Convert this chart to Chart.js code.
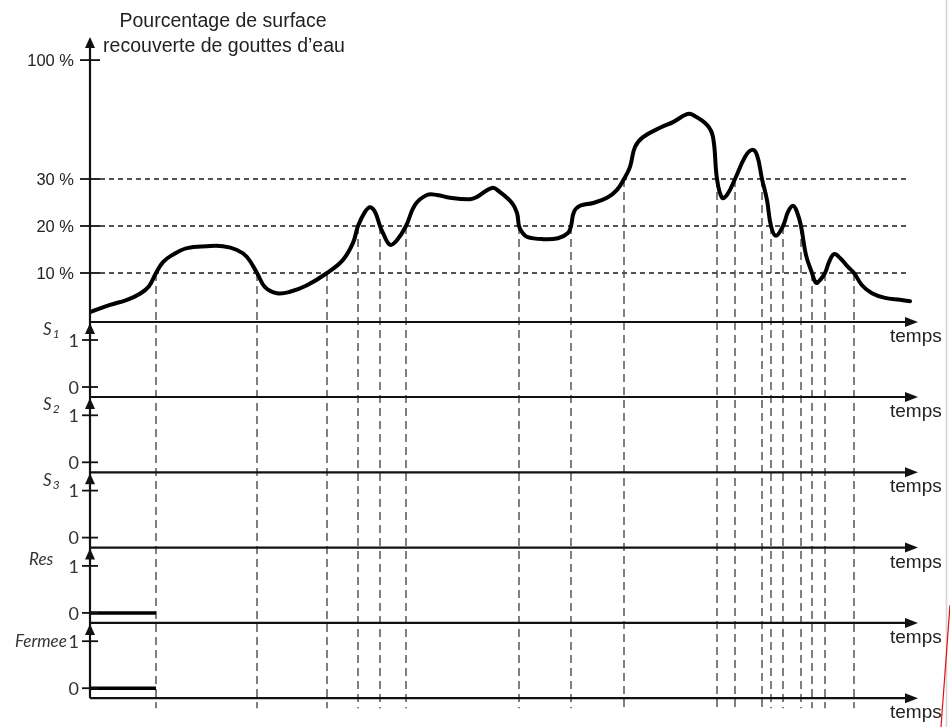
<!DOCTYPE html>
<html lang="fr">
<head>
<meta charset="utf-8">
<title>Chronogramme - gouttes d'eau</title>
<script src="https://cdn.jsdelivr.net/npm/chart.js@4.4.1/dist/chart.umd.min.js"></script>
<style>
  html, body { margin: 0; padding: 0; background: #fff; }
  #cadre { position: relative; width: 950px; height: 727px; }
</style>
</head>
<body>
<div id="cadre"><canvas id="chronogramme" width="950" height="727"></canvas></div>
<script>
// Courbe du haut : temps (unité arbitraire, 0 = origine, 828 = bout de la flèche)
const tempsCourbe = [0, 20, 37, 50, 59, 66, 73, 82, 97, 117, 133, 147, 157, 167, 175, 187, 200, 217, 237,
    253, 263, 268, 275, 280, 285, 290, 293, 300, 307, 316, 325, 337, 347, 360, 380, 387, 402, 410, 422,
    427, 429, 432, 437, 453, 468, 478, 481, 484, 490, 503, 517, 527, 534, 540, 545, 553, 570, 583, 597,
    603, 617, 623, 627, 632, 637, 645, 655, 662, 667, 672, 677, 681, 686, 693, 698, 703, 707, 711, 716,
    722, 726, 730, 735, 739, 744, 750, 758, 764, 772, 782, 795, 810, 820];
const pourcentage = [1.7, 3.2, 4.3, 5.6, 7.2, 10.0, 12.3, 13.8, 15.3, 15.7, 15.7, 14.9, 13.4, 10.0, 7.0, 5.7, 6.0, 7.4, 10.0,
    12.8, 16.4, 20.0, 23.0, 24.0, 23.0, 20.0, 18.5, 16.0, 17.0, 20.0, 24.5, 26.6, 26.6, 26.0, 25.7, 26.2, 28.1, 27.2, 24.9,
    22.8, 20.0, 18.7, 17.7, 17.2, 17.4, 18.5, 20.0, 23.0, 24.3, 24.9, 26.0, 27.7, 30.0, 32.6, 36.8, 38.9, 40.9, 42.1, 43.8,
    43.6, 41.5, 38.9, 30.0, 26.0, 26.6, 30.0, 34.7, 36.2, 35.1, 30.0, 25.5, 20.0, 17.9, 20.0, 23.0, 24.3, 23.0, 20.0, 13.8,
    10.0, 7.9, 8.5, 10.0, 12.3, 14.0, 13.2, 11.3, 10.0, 7.4, 5.7, 4.7, 4.3, 4.0];

// Instants où la courbe franchit un seuil (pointillés verticaux) et seuil franchi
const seuilsTemps = [66, 167, 237, 268, 290, 316, 429, 481, 534, 627, 645, 672, 681, 693, 711, 722, 735, 764];
const seuilsNiveau = [10, 10, 10, 20, 20, 20, 20, 20, 30, 30, 30, 30, 20, 20, 20, 10, 10, 10];

// Graduations de l'axe des pourcentages
const niveauxGrille = [10, 20, 30];
const valeursPct = [10, 20, 30, 55.3];
const etiquettesPct = ["10 %", "20 %", "30 %", "100 %"];

// Signaux logiques
const signaux = ["S1", "S2", "S3", "Res", "Fermee"];
const valeursLogiques = [0, 1];
const tempsRes = [0, 66];
const valRes = [0, 0];
const tempsFermee = [0, 66];
const valFermee = [0, 0];

// Mise en page (pixels)
const HAUT = 40, BAS = 698, GAUCHE = 90, DROITE = 918;
const T_MAX = 828, T_FIN_GRILLE = 818;
const PX_PCT = 4.7, ZERO_PCT = 320;          // 10 % = 47 px
const PX_LOG = 47, ZERO_S1 = 387, PAS_PANNEAU = 75.3;

function bande(zeroPx, pxParUnite) {
    return { min: -(BAS - zeroPx) / pxParUnite, max: (zeroPx - HAUT) / pxParUnite };
}

const echelles = {
    x: { type: "linear", display: false, min: 0, max: T_MAX },
    yPct: Object.assign({ type: "linear", display: false }, bande(ZERO_PCT, PX_PCT))
};
signaux.forEach((s, i) => {
    echelles["y" + s] = Object.assign({ type: "linear", display: false }, bande(ZERO_S1 + i * PAS_PANNEAU, PX_LOG));
});

// étiquettes des signaux : x, décalage de la ligne de base par rapport à la graduation 1, indice
const etiquettesSignaux = {
    S1: { x: 43, dy: -5, indice: "1" },
    S2: { x: 43, dy: -5, indice: "2" },
    S3: { x: 43, dy: -5, indice: "3" },
    Res: { x: 29, dy: -1, indice: "" },
    Fermee: { x: 15, dy: 6, indice: "" }
};

function fleche(ctx, pointes) {
    ctx.beginPath();
    ctx.moveTo(pointes[0][0], pointes[0][1]);
    ctx.lineTo(pointes[1][0], pointes[1][1]);
    ctx.lineTo(pointes[2][0], pointes[2][1]);
    ctx.closePath();
    ctx.fill();
}

const pluginChrono = {
    id: "chrono",
    beforeDatasetsDraw(chart) {
        const { ctx, scales } = chart;
        const sx = scales.x, yp = scales.yPct;
        const x0 = sx.getPixelForValue(0);
        const xFin = sx.getPixelForValue(T_FIN_GRILLE);
        const yBas = scales.yFermee.getPixelForValue(0) + 20;
        ctx.save();
        // pointillés horizontaux 10 / 20 / 30 %
        ctx.setLineDash([5, 4]);
        ctx.lineWidth = 1.7;
        ctx.strokeStyle = "#1a1a1a";
        niveauxGrille.forEach(v => {
            const y = yp.getPixelForValue(v);
            ctx.beginPath(); ctx.moveTo(x0 + 10, y); ctx.lineTo(xFin, y); ctx.stroke();
        });
        // pointillés verticaux aux franchissements de seuil
        ctx.setLineDash([8, 5]);
        ctx.lineWidth = 1.5;
        ctx.strokeStyle = "#555";
        seuilsTemps.forEach((t, i) => {
            const px = sx.getPixelForValue(t);
            ctx.beginPath(); ctx.moveTo(px, yp.getPixelForValue(seuilsNiveau[i])); ctx.lineTo(px, yBas); ctx.stroke();
        });
        ctx.restore();
    },
    afterDatasetsDraw(chart) {
        const { ctx, scales } = chart;
        const sx = scales.x, yp = scales.yPct;
        const x0 = sx.getPixelForValue(0);
        const xTip = sx.getPixelForValue(T_MAX);
        ctx.save();
        ctx.strokeStyle = "#111";
        ctx.fillStyle = "#111";
        ctx.lineWidth = 2.2;

        // axes horizontaux (temps)
        const axesY = [yp.getPixelForValue(0) + 2];
        signaux.forEach(s => axesY.push(scales["y" + s].getPixelForValue(0) + 10));
        axesY.forEach(y => {
            ctx.beginPath(); ctx.moveTo(x0, y); ctx.lineTo(xTip - 6, y); ctx.stroke();
            fleche(ctx, [[xTip, y], [xTip - 13, y - 5], [xTip - 13, y + 5]]);
        });

        // axe vertical continu
        const yHaut = yp.getPixelForValue(59.6) - 3;
        ctx.beginPath(); ctx.moveTo(x0, yHaut + 6); ctx.lineTo(x0, axesY[axesY.length - 1]); ctx.stroke();
        fleche(ctx, [[x0, yHaut], [x0 - 5, yHaut + 11], [x0 + 5, yHaut + 11]]);
        for (let i = 0; i < signaux.length; i++) {
            const y = axesY[i] + 1;
            fleche(ctx, [[x0, y], [x0 - 5, y + 11], [x0 + 5, y + 11]]);
        }

        // graduations de pourcentage
        ctx.lineWidth = 1.8;
        ctx.font = "16.5px 'Liberation Sans', Arial, sans-serif";
        ctx.textAlign = "right";
        ctx.textBaseline = "middle";
        ctx.fillStyle = "#222";
        valeursPct.forEach((v, i) => {
            const y = yp.getPixelForValue(v);
            ctx.beginPath(); ctx.moveTo(x0 - 10, y); ctx.lineTo(x0 + 10, y); ctx.stroke();
            ctx.fillText(etiquettesPct[i], x0 - 16, y + 1);
        });

        // graduations 0 / 1 et noms des signaux
        signaux.forEach(s => {
            const sc = scales["y" + s];
            ctx.font = "18px Lato, 'Open Sans', sans-serif";
            ctx.textAlign = "right";
            ctx.textBaseline = "middle";
            ctx.fillStyle = "#333";
            valeursLogiques.forEach(v => {
                const y = sc.getPixelForValue(v);
                ctx.beginPath(); ctx.moveTo(x0 - 8, y); ctx.lineTo(x0 + 8, y); ctx.stroke();
                ctx.fillText(String(v), x0 - 11, y + 1);
            });
            const et = etiquettesSignaux[s];
            const yb = sc.getPixelForValue(1) + et.dy;
            const nom = et.indice ? s.charAt(0) : s;
            ctx.textAlign = "left";
            ctx.textBaseline = "alphabetic";
            ctx.font = "italic 17px Lato, 'Open Sans', sans-serif";
            ctx.fillText(nom, et.x, yb);
            if (et.indice) {
                const w = ctx.measureText(nom).width;
                ctx.font = "italic 12px Lato, 'Open Sans', sans-serif";
                ctx.fillText(et.indice, et.x + w + 1, yb + 3);
            }
        });

        // légendes "temps"
        ctx.font = "19px 'Liberation Sans', Arial, sans-serif";
        ctx.fillStyle = "#222";
        ctx.textAlign = "left";
        ctx.textBaseline = "alphabetic";
        axesY.forEach(y => ctx.fillText("temps", xTip - 28, y + 20));

        // titre de l'axe vertical
        ctx.textAlign = "center";
        ctx.font = "19.5px 'Liberation Sans', Arial, sans-serif";
        ctx.fillText("Pourcentage de surface", 223, 27);
        ctx.fillText("recouverte de gouttes d\u2019eau", 224, 52);

        // bord droit de la capture
        ctx.strokeStyle = "#d4d4d4";
        ctx.lineWidth = 1.5;
        ctx.beginPath(); ctx.moveTo(946.5, 0); ctx.lineTo(946.5, 727); ctx.stroke();
        ctx.strokeStyle = "#e01010";
        ctx.lineWidth = 1.2;
        ctx.beginPath(); ctx.moveTo(950, 605); ctx.lineTo(941, 727); ctx.stroke();
        ctx.restore();
    }
};

function points(xs, ys) {
    return xs.map((t, i) => ({ x: t, y: ys[i] }));
}

new Chart(document.getElementById("chronogramme"), {
    type: "line",
    data: {
        datasets: [
            {
                label: "Pourcentage de surface",
                data: points(tempsCourbe, pourcentage),
                yAxisID: "yPct",
                borderColor: "#000",
                borderWidth: 4,
                pointRadius: 0,
                tension: 0.4,
                borderJoinStyle: "round",
                borderCapStyle: "round",
                fill: false
            },
            {
                label: "Res",
                data: points(tempsRes, valRes),
                yAxisID: "yRes",
                borderColor: "#000",
                borderWidth: 3.5,
                pointRadius: 0
            },
            {
                label: "Fermee",
                data: points(tempsFermee, valFermee),
                yAxisID: "yFermee",
                borderColor: "#000",
                borderWidth: 3.5,
                pointRadius: 0
            }
        ]
    },
    options: {
        responsive: false,
        animation: false,
        layout: { padding: { left: GAUCHE, top: HAUT, right: 950 - DROITE, bottom: 727 - BAS } },
        scales: echelles,
        plugins: {
            legend: { display: false },
            tooltip: { enabled: false }
        }
    },
    plugins: [pluginChrono]
});
</script>
</body>
</html>
